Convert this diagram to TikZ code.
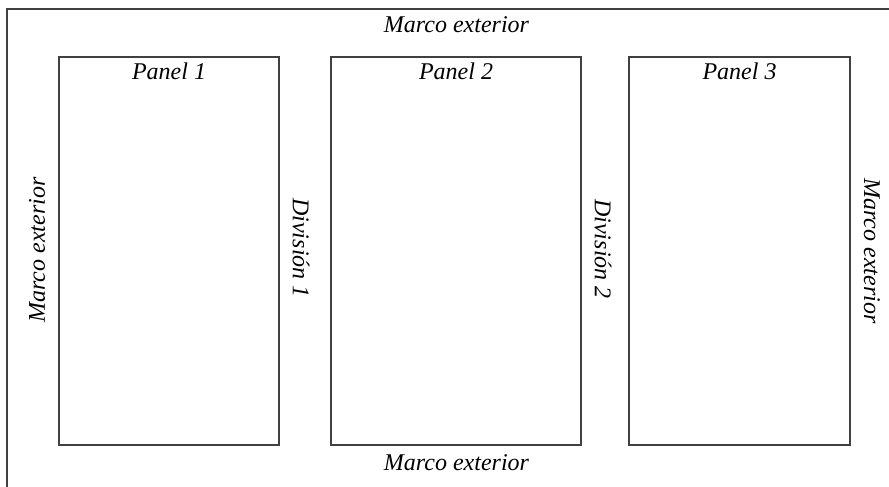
\documentclass[tikz,border=0pt]{standalone}
\usepackage{fontspec}
\setmainfont{Liberation Serif}
\begin{document}
\begin{tikzpicture}[x=1pt,y=-1pt,
  framebox/.style={draw=black!75,line width=1.1pt},
  panelbox/.style={draw=black!75,line width=1.1pt,inner sep=0pt,minimum height=388pt},
  lbl/.style={font=\fontsize{24}{28}\selectfont\itshape,inner sep=0pt,text=black}]
\useasboundingbox (0,0) rectangle (889,487);
\clip (0,0) rectangle (889,487);
\fill[white] (0,0) rectangle (889,487);
\coordinate (fa) at (7,9);
\coordinate (fb) at (905,505);
\draw[framebox] (fa) rectangle (fb);
\node[panelbox,minimum width=220pt] (p1) at (169,251) {};
\node[panelbox,minimum width=250pt] (p2) at (456,251) {};
\node[panelbox,minimum width=221pt] (p3) at (739.5,251) {};
\node[lbl,anchor=north] (l1) at ([yshift=-6pt]p1.north) {Panel 1};
\node[lbl,anchor=north] (l2) at ([yshift=-6pt]p2.north) {Panel 2};
\node[lbl,anchor=north] (l3) at ([yshift=-6pt]p3.north) {Panel 3};
\node[lbl] (mt) at (456.5,24.5) {Marco exterior};
\node[lbl] (mb) at (456.5,462.5) {Marco exterior};
\node[lbl,rotate=90] (ml) at (37,250) {Marco exterior};
\node[lbl,rotate=-90] (mr) at (872,251) {Marco exterior};
\node[lbl,rotate=-90] (d1) at (301,248) {División 1};
\node[lbl,rotate=-90] (d2) at (603,249) {División 2};
\end{tikzpicture}
\end{document}
